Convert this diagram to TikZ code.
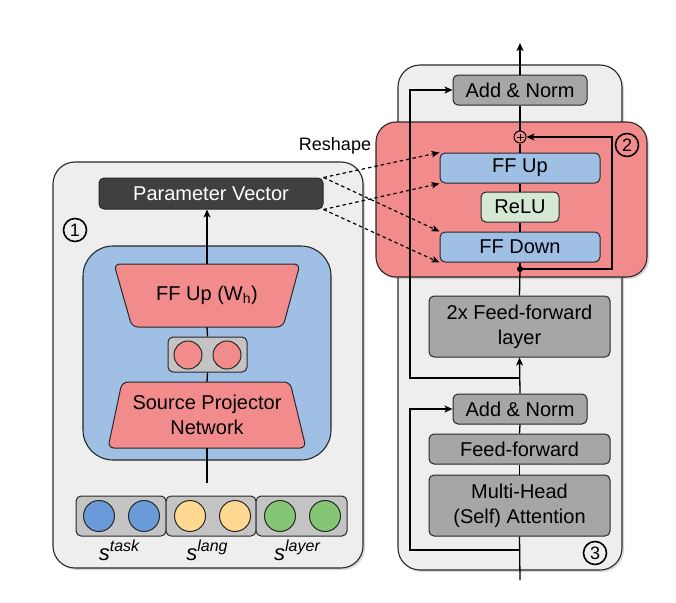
\documentclass[tikz,border=0pt]{standalone}
\usepackage{fontspec}
\setmainfont{Liberation Sans}
\usetikzlibrary{arrows.meta,shadows}
\definecolor{panelgray}{RGB}{238,238,238}
\definecolor{darkbox}{RGB}{64,64,64}
\definecolor{lblue}{RGB}{159,191,229}
\definecolor{lred}{RGB}{242,140,140}
\definecolor{mgray}{RGB}{166,166,166}
\definecolor{lgray}{RGB}{196,196,196}
\definecolor{cblue}{RGB}{106,155,216}
\definecolor{cyellow}{RGB}{255,217,146}
\definecolor{cgreen}{RGB}{132,198,115}
\definecolor{relugreen}{RGB}{213,232,212}
\definecolor{edge}{RGB}{40,40,40}
\newcommand\emblabel[1]{\fontsize{22}{22}\selectfont\itshape s\raisebox{9pt}{\fontsize{16}{16}\selectfont #1}}
\begin{document}
\begin{tikzpicture}[x=1pt,y=-1pt,
  every node/.style={font=\fontsize{20}{25}\selectfont, text=black, align=center, inner sep=0pt},
  panel/.style={draw=edge, line width=1.1pt, fill=panelgray, rounded corners=22pt,
    drop shadow={shadow xshift=2pt, shadow yshift=-2pt, opacity=0.3}},
  box/.style={draw=edge, line width=1pt, rounded corners=5pt},
  graybox/.style={box, fill=mgray},
  bluebox/.style={box, fill=lblue},
  embbox/.style={box, fill=lgray},
  ball/.style={circle, draw=edge, line width=1pt, minimum size=31pt},
  numcirc/.style={circle, draw=black, line width=1.6pt, minimum size=23pt, font=\fontsize{18}{18}\selectfont},
  conn/.style={draw=black, line width=1.3pt},
  arr/.style={conn, -{Stealth[length=8pt,width=7pt,inset=2pt]}},
  dasharr/.style={draw=black, line width=1.2pt, dash pattern=on 3.5pt off 3pt, -{Stealth[length=8pt,width=6.5pt,inset=2pt]}},
]
\useasboundingbox (0,0) rectangle (676,602);

% ---------------- left panel ----------------
\path[panel] (53,162) rectangle (363,568);
\node[box, fill=darkbox, text=white, minimum width=224pt, minimum height=31pt] (pv) at (211,193.5) {Parameter Vector};
\node[numcirc] (n1) at (75,230) {1};

\path[draw=edge, line width=1.1pt, fill=lblue, rounded corners=30pt] (83,246) rectangle (331,460);

% FF Up trapezoid
\path[draw=edge, line width=1pt, fill=lred, rounded corners=6pt]
  (114,264) -- (300,264) -- (283,327) -- (132,327) -- cycle;
\node[minimum width=186pt, minimum height=63pt] (ffupL) at (207,295.5) {FF Up (W\textsubscript{h})};

% small box with two circles
\node[embbox, minimum width=79pt, minimum height=35pt] (hid) at (207.5,354.5) {};
\node[ball, fill=lred, minimum size=28pt] (h1) at (188,355) {};
\node[ball, fill=lred, minimum size=28pt] (h2) at (227,355) {};

% Source projector trapezoid
\path[draw=edge, line width=1pt, fill=lred, rounded corners=6pt]
  (122,382) -- (290,382) -- (306,448) -- (108,448) -- cycle;
\node[minimum width=198pt, minimum height=66pt] (spn) at (207,415) {Source Projector\\Network};

% embeddings
\node[embbox, minimum width=90pt, minimum height=40pt] (etask) at (121,516) {};
\node[embbox, minimum width=90pt, minimum height=40pt] (elang) at (211,516) {};
\node[embbox, minimum width=91pt, minimum height=40pt] (elayer) at (301.5,516) {};
\node[ball, fill=cblue] (b1) at (99,516) {};
\node[ball, fill=cblue] (b2) at (144,516) {};
\node[ball, fill=cyellow] (y1) at (190,516) {};
\node[ball, fill=cyellow] (y2) at (235,516) {};
\node[ball, fill=cgreen] (g1) at (280,516) {};
\node[ball, fill=cgreen] (g2) at (325,516) {};
\node[anchor=base] (ltask) at (119,560) {\emblabel{task}};
\node[anchor=base] (llang) at (207,560) {\emblabel{lang}};
\node[anchor=base] (llayer) at (297,560) {\emblabel{layer}};

% left connectors
\coordinate (spnend) at (207,483);
\draw[conn] (spn.south) -- (spnend);
\draw[conn] (spn.north) -- (hid.south);
\draw[conn] (hid.north) -- (ffupL.south);
\draw[arr] (ffupL.north) -- (207,209.5);

% ---------------- right panel ----------------
\path[panel] (398,65) rectangle (622,570);
\node[graybox, minimum width=134pt, minimum height=30pt] (an1) at (520,90) {Add \& Norm};

\path[draw=edge, line width=1.1pt, fill=lred, rounded corners=20pt,
  drop shadow={shadow xshift=2pt, shadow yshift=-2pt, opacity=0.3}] (376,122) rectangle (647,277);
\node[numcirc] (n2) at (627,145) {2};
\node[circle, draw=black, line width=1pt, minimum size=12pt] (plus) at (520,137) {};
\draw[line width=0.9pt] (516.5,137) -- (523.5,137) (520,133.5) -- (520,140.5);
\node[bluebox, minimum width=160pt, minimum height=30pt] (ffup) at (520,168) {FF Up};
\node[box, fill=relugreen, minimum width=78pt, minimum height=30pt] (relu) at (520,207) {ReLU};
\node[bluebox, minimum width=160pt, minimum height=30pt] (ffdown) at (520,247) {FF Down};
\node[circle, fill=black, minimum size=6pt] (dot) at (520,269) {};

\node[graybox, minimum width=181pt, minimum height=61pt] (ff2) at (519.5,326.5) {2x Feed-forward\\layer};
\node[graybox, minimum width=134pt, minimum height=30pt] (an2) at (520,409) {Add \& Norm};
\node[graybox, minimum width=181pt, minimum height=30pt] (ffw) at (519.5,449) {Feed-forward};
\node[graybox, minimum width=181pt, minimum height=61pt] (mha) at (519.5,505.5) {Multi-Head\\(Self) Attention};
\node[numcirc] (n3) at (595,553) {3};

% right connectors
\coordinate (topend) at (520,43);
\coordinate (botend) at (520,580);
\coordinate (res1) at (520,550);
\coordinate (res2) at (520,378);
\draw[conn] (botend) -- (mha.south);
\draw[conn] (mha.north) -- (ffw.south);
\draw[conn] (ffw.north) -- (an2.south);
\draw[arr] (an2.north) -- (ff2.south);
\draw[conn] (ff2.north) -- (dot.center);
\draw[conn] (dot.center) -- (ffdown.south);
\draw[conn] (ffdown.north) -- (relu.south);
\draw[conn] (relu.north) -- (ffup.south);
\draw[conn] (ffup.north) -- (plus.south);
\draw[conn] (plus.north) -- (an1.south);
\draw[arr] (an1.north) -- (topend);
\draw[arr] (res1) -- (410,550) -- (410,409) -- (an2.west);
\draw[arr] (res2) -- (410,378) -- (410,90) -- (an1.west);
\draw[arr] (dot.center) -- (612,269) -- (612,137) -- (plus.east);

% reshape
\node[font=\fontsize{18}{18}\selectfont] (reshape) at (335,146) {Reshape};
\draw[dasharr] (pv.north east) -- (ffup.north west);
\draw[dasharr] (pv.north east) -- (ffdown.north west);
\draw[dasharr] (pv.south east) -- (ffup.south west);
\draw[dasharr] (pv.south east) -- (ffdown.south west);
\end{tikzpicture}
\end{document}
